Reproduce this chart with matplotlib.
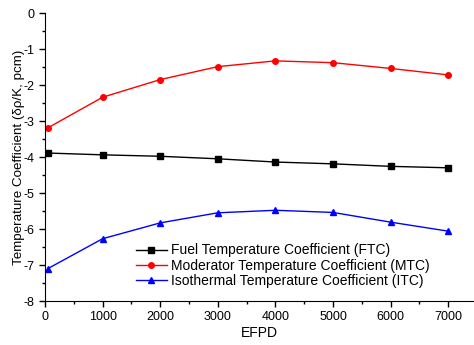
import matplotlib
matplotlib.use("Agg")
import matplotlib.pyplot as plt
from matplotlib.ticker import MultipleLocator

plt.rcParams['font.family'] = ['Liberation Sans', 'DejaVu Sans']
plt.rcParams['axes.unicode_minus'] = False

efpd = [50, 1000, 2000, 3000, 4000, 5000, 6000, 7000]
ftc = [-3.89, -3.94, -3.98, -4.05, -4.14, -4.19, -4.26, -4.30]
mtc = [-3.19, -2.34, -1.85, -1.49, -1.33, -1.38, -1.54, -1.72]
itc = [-7.10, -6.27, -5.83, -5.55, -5.48, -5.54, -5.81, -6.06]

fig = plt.figure(figsize=(4.74, 3.45), dpi=100)
ax = fig.add_axes([45 / 474, 44 / 345, 428 / 474, 288 / 345])

ax.plot(efpd, ftc, color='black', marker='s', markersize=4, lw=1,
        label='Fuel Temperature Coefficient (FTC)')
ax.plot(efpd, mtc, color='red', marker='o', markersize=4, lw=1,
        label='Moderator Temperature Coefficient (MTC)')
ax.plot(efpd, itc, color='blue', marker='^', markersize=5, lw=1,
        label='Isothermal Temperature Coefficient (ITC)')

ax.set_xlim(0, 7430)
ax.set_ylim(-8, 0)
ax.xaxis.set_major_locator(MultipleLocator(1000))
ax.xaxis.set_minor_locator(MultipleLocator(500))
ax.yaxis.set_major_locator(MultipleLocator(1))
ax.yaxis.set_minor_locator(MultipleLocator(0.5))
ax.tick_params(which='major', length=4, width=1, labelsize=9, direction='out')
ax.tick_params(which='minor', length=2.5, width=1, direction='out')
for s in ['top', 'right']:
    ax.spines[s].set_visible(False)

ax.set_xlabel('EFPD', fontsize=10, labelpad=2)
ax.set_ylabel('Temperature Coefficient (δρ/K, pcm)', fontsize=9.6, labelpad=-1)

ax.legend(loc='lower left', bbox_to_anchor=(0.2, 0.025), frameon=False, fontsize=10,
          handlelength=2.2, handletextpad=0.3, labelspacing=0.1, borderaxespad=0)

fig.savefig('out.png', dpi=100)
